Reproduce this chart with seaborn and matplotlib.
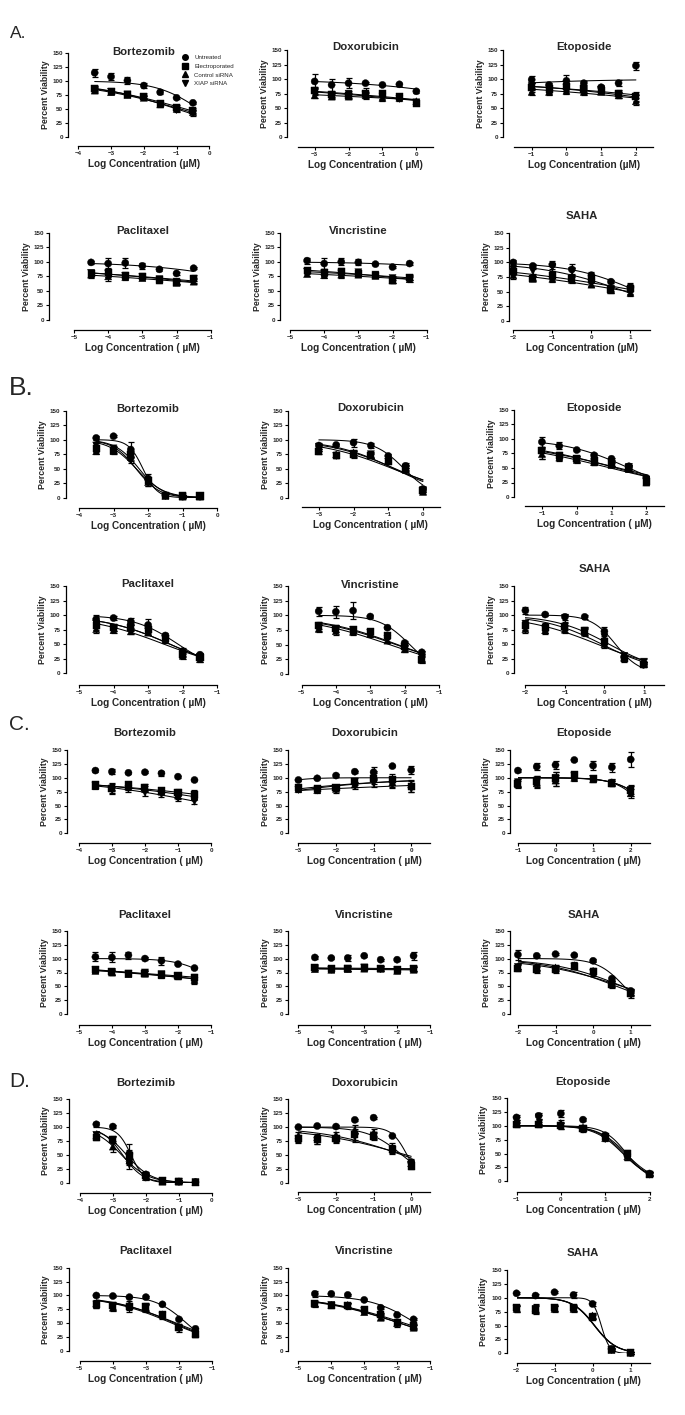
import numpy as np
import pandas as pd
import matplotlib
matplotlib.use("Agg")
import matplotlib.pyplot as plt
from matplotlib.lines import Line2D
import seaborn as sns

# -----------------------------
# DATA
# -----------------------------
series_names = ["Untreated", "Electroporated", "Control siRNA", "XIAP siRNA"]
panel_letters = ["A.", "B.", "C.", "D."]
drug_titles = ["Bortezomib", "Doxorubicin", "Etoposide", "Paclitaxel", "Vincristine", "SAHA"]
drug_titles_d = ["Bortezimib", "Doxorubicin", "Etoposide", "Paclitaxel", "Vincristine", "SAHA"]
y_ticks = [0, 25, 50, 75, 100, 125, 150]

# log concentration (uM) per drug
x_bortezomib = [-3.5, -3, -2.5, -2, -1.5, -1, -0.5]
x_doxorubicin = [-3, -2.5, -2, -1.5, -1, -0.5, 0]
x_etoposide = [-1, -0.5, 0, 0.5, 1, 1.5, 2]
x_paclitaxel = [-4.5, -4, -3.5, -3, -2.5, -2, -1.5]
x_vincristine = [-4.5, -4, -3.5, -3, -2.5, -2, -1.5]
x_saha = [-2, -1.5, -1, -0.5, 0, 0.5, 1]

# percent viability, rows = Untreated, Electroporated, Control siRNA, XIAP siRNA
A_bortezomib = [[115, 108, 101, 92, 80, 70, 61], [87, 81, 76, 72, 60, 53, 47],
                [83, 80, 75, 70, 58, 50, 44], [85, 81, 76, 71, 59, 48, 42]]
A_doxorubicin = [[96, 90, 93, 93, 90, 91, 79], [80, 73, 72, 75, 75, 70, 58],
                 [72, 70, 70, 72, 68, 68, 62], [78, 72, 75, 73, 70, 66, 60]]
A_etoposide = [[99, 90, 97, 93, 86, 93, 123], [85, 83, 87, 83, 80, 76, 70],
               [78, 78, 80, 78, 78, 72, 62], [88, 80, 85, 80, 82, 73, 67]]
A_paclitaxel = [[99, 97, 98, 93, 87, 80, 89], [80, 82, 77, 75, 70, 65, 72],
                [78, 75, 74, 72, 68, 64, 66], [81, 80, 76, 74, 70, 66, 68]]
A_vincristine = [[102, 97, 100, 99, 96, 91, 97], [85, 82, 83, 80, 77, 68, 73],
                 [79, 77, 78, 78, 76, 68, 70], [83, 80, 80, 82, 78, 72, 72]]
A_saha = [[100, 94, 96, 88, 78, 67, 58], [84, 73, 78, 72, 70, 53, 55],
          [78, 72, 72, 70, 62, 52, 48], [88, 85, 92, 85, 65, 55, 50]]

B_bortezomib = [[103, 106, 83, 33, 4, 2, 2], [85, 82, 75, 30, 4, 3, 3],
                [80, 80, 70, 27, 3, 2, 2], [90, 85, 65, 25, 3, 2, 2]]
B_doxorubicin = [[90, 91, 95, 90, 72, 55, 15], [80, 73, 74, 72, 63, 50, 12],
                 [85, 75, 78, 73, 65, 48, 10], [88, 72, 76, 75, 62, 52, 13]]
B_etoposide = [[95, 88, 81, 72, 66, 53, 33], [80, 72, 66, 62, 57, 50, 27],
               [74, 68, 64, 60, 55, 48, 25], [78, 70, 65, 60, 58, 52, 30]]
B_paclitaxel = [[93, 95, 89, 83, 65, 38, 32], [82, 79, 78, 75, 60, 33, 27],
                [76, 74, 72, 70, 57, 30, 24], [85, 77, 80, 72, 59, 34, 28]]
B_vincristine = [[107, 106, 108, 98, 79, 53, 37], [82, 77, 75, 72, 65, 47, 25],
                 [77, 73, 72, 68, 57, 42, 24], [80, 77, 75, 70, 60, 45, 28]]
B_saha = [[108, 101, 97, 97, 72, 28, 17], [82, 79, 80, 73, 55, 25, 15],
          [76, 74, 75, 70, 50, 27, 16], [85, 76, 95, 72, 62, 30, 20]]

C_bortezomib = [[113, 111, 109, 110, 108, 102, 96], [87, 80, 87, 83, 77, 73, 70],
                [85, 83, 84, 80, 75, 68, 66], [86, 78, 80, 73, 70, 63, 57]]
C_doxorubicin = [[96, 99, 104, 111, 110, 121, 114], [82, 80, 83, 93, 98, 97, 84],
                 [80, 78, 80, 88, 105, 92, 88], [78, 77, 77, 85, 90, 87, 80]]
C_etoposide = [[113, 120, 123, 132, 122, 119, 133], [90, 93, 98, 105, 98, 90, 77],
               [88, 90, 95, 100, 97, 92, 72], [92, 95, 100, 103, 98, 90, 78]]
C_paclitaxel = [[103, 102, 106, 100, 96, 90, 83], [80, 76, 73, 74, 71, 70, 66],
                [78, 75, 72, 73, 70, 68, 62], [79, 76, 73, 75, 72, 69, 60]]
C_vincristine = [[102, 101, 101, 105, 98, 98, 105], [84, 82, 82, 84, 83, 80, 82],
                 [81, 80, 81, 82, 82, 78, 80], [83, 80, 82, 84, 81, 79, 81]]
C_saha = [[107, 105, 108, 106, 96, 64, 42], [83, 80, 80, 86, 76, 54, 38],
          [86, 85, 84, 88, 78, 55, 40], [85, 82, 82, 86, 74, 52, 35]]

D_bortezomib = [[105, 101, 52, 15, 3, 2, 1], [82, 78, 48, 13, 3, 2, 1],
                [85, 65, 40, 10, 2, 2, 1], [86, 77, 32, 9, 3, 2, 1]]
D_doxorubicin = [[100, 102, 101, 113, 117, 84, 37], [80, 77, 80, 86, 83, 60, 30],
                 [85, 82, 86, 95, 90, 64, 35], [78, 75, 78, 82, 85, 60, 32]]
D_etoposide = [[115, 118, 122, 111, 83, 48, 14], [102, 102, 100, 95, 80, 50, 13],
               [105, 108, 105, 97, 78, 45, 14], [110, 115, 100, 93, 76, 44, 12]]
D_paclitaxel = [[100, 99, 97, 97, 84, 57, 40], [83, 82, 80, 80, 65, 42, 30],
                [86, 78, 84, 76, 66, 44, 33], [84, 80, 77, 78, 63, 40, 30]]
D_vincristine = [[103, 103, 101, 92, 78, 65, 57], [85, 82, 82, 75, 65, 52, 45],
                 [85, 83, 83, 70, 60, 50, 42], [84, 83, 80, 72, 62, 48, 43]]
D_saha = [[108, 104, 110, 105, 89, 8, 1], [82, 78, 82, 82, 65, 7, 1],
          [80, 82, 80, 80, 68, 6, 1], [80, 80, 81, 81, 66, 6, 1]]

# error bars (SD)
A_bortezomib_err = [[7, 6, 7, 4, 4, 2, 2], [5, 3, 3, 3, 4, 4, 4], [4, 3, 3, 3, 4, 4, 4], [4, 3, 3, 3, 4, 4, 4]]
A_doxorubicin_err = [[12, 10, 9, 2, 2, 2, 3], [6, 4, 4, 9, 5, 4, 3], [5, 4, 4, 4, 5, 4, 3], [5, 4, 4, 4, 4, 4, 3]]
A_etoposide_err = [[6, 4, 10, 3, 4, 5, 7], [8, 7, 6, 5, 4, 5, 8], [6, 5, 5, 5, 4, 5, 6], [6, 5, 5, 5, 4, 5, 6]]
A_paclitaxel_err = [[2, 10, 8, 5, 2, 2, 2], [5, 8, 6, 5, 5, 4, 5], [5, 8, 5, 4, 4, 4, 4], [5, 6, 5, 4, 4, 4, 4]]
A_vincristine_err = [[5, 10, 6, 5, 2, 2, 2], [4, 6, 6, 5, 4, 4, 4], [4, 5, 5, 4, 4, 4, 4], [4, 5, 5, 4, 4, 4, 4]]
A_saha_err = [[5, 3, 7, 9, 6, 2, 6], [6, 4, 6, 5, 5, 4, 6], [6, 4, 5, 5, 5, 4, 5], [6, 4, 6, 5, 5, 4, 5]]

B_bortezomib_err = [[3, 2, 13, 8, 2, 2, 2], [6, 5, 6, 6, 2, 2, 2], [5, 4, 6, 6, 2, 2, 2], [5, 4, 6, 5, 2, 2, 2]]
B_doxorubicin_err = [[3, 2, 7, 5, 4, 4, 3], [4, 5, 6, 4, 4, 4, 3], [4, 4, 5, 4, 4, 4, 3], [4, 4, 5, 4, 4, 4, 3]]
B_etoposide_err = [[8, 6, 2, 3, 2, 3, 3], [14, 6, 5, 4, 4, 4, 4], [8, 6, 5, 4, 4, 4, 4], [8, 5, 5, 4, 4, 4, 4]]
B_paclitaxel_err = [[8, 3, 6, 10, 5, 5, 3], [8, 6, 5, 5, 5, 5, 4], [7, 5, 5, 5, 5, 5, 4], [7, 5, 5, 5, 5, 5, 4]]
B_vincristine_err = [[8, 10, 14, 2, 3, 4, 3], [6, 6, 5, 5, 5, 5, 5], [6, 6, 5, 5, 5, 5, 5], [6, 5, 5, 5, 5, 5, 5]]
B_saha_err = [[6, 2, 5, 3, 8, 4, 2], [7, 7, 6, 6, 6, 5, 4], [7, 6, 6, 6, 6, 5, 4], [7, 6, 6, 6, 6, 5, 4]]

C_bortezomib_err = [[2, 5, 2, 2, 5, 2, 2], [6, 10, 6, 6, 5, 6, 8], [5, 6, 6, 6, 5, 6, 6], [5, 6, 5, 5, 5, 5, 5]]
C_doxorubicin_err = [[2, 2, 2, 2, 10, 2, 7], [4, 4, 4, 6, 10, 10, 10], [4, 4, 4, 5, 8, 8, 8], [4, 4, 4, 5, 6, 6, 6]]
C_etoposide_err = [[3, 6, 7, 2, 8, 8, 13], [7, 10, 12, 5, 4, 5, 10], [6, 8, 10, 5, 4, 5, 8], [6, 8, 10, 5, 4, 5, 8]]
C_paclitaxel_err = [[8, 9, 6, 2, 7, 2, 2], [4, 5, 4, 4, 4, 4, 6], [4, 4, 4, 4, 4, 4, 5], [4, 4, 4, 4, 4, 4, 5]]
C_vincristine_err = [[2, 2, 6, 2, 2, 2, 7], [5, 5, 4, 4, 4, 5, 5], [4, 4, 4, 4, 4, 4, 4], [4, 4, 4, 4, 4, 4, 4]]
C_saha_err = [[9, 2, 2, 2, 3, 3, 3], [5, 5, 5, 5, 5, 5, 5], [5, 5, 5, 5, 5, 5, 5], [5, 5, 5, 5, 5, 5, 5]]

D_bortezomib_err = [[5, 2, 18, 4, 2, 2, 2], [6, 6, 10, 4, 2, 2, 2], [6, 10, 8, 4, 2, 2, 2], [6, 6, 8, 4, 2, 2, 2]]
D_doxorubicin_err = [[2, 2, 2, 2, 2, 2, 5], [6, 8, 6, 10, 6, 8, 5], [6, 6, 6, 8, 6, 8, 5], [6, 6, 6, 8, 6, 6, 5]]
D_etoposide_err = [[5, 5, 7, 3, 3, 5, 3], [5, 5, 5, 4, 4, 6, 3], [5, 5, 5, 4, 4, 6, 3], [5, 5, 5, 4, 4, 6, 3]]
D_paclitaxel_err = [[2, 2, 2, 2, 2, 2, 2], [6, 6, 6, 6, 5, 5, 4], [6, 6, 6, 6, 5, 5, 4], [6, 6, 6, 6, 5, 5, 4]]
D_vincristine_err = [[5, 2, 2, 2, 2, 2, 2], [4, 4, 4, 4, 4, 4, 4], [4, 4, 4, 4, 4, 4, 4], [4, 4, 4, 4, 4, 4, 4]]
D_saha_err = [[2, 2, 2, 5, 4, 2, 2], [5, 7, 5, 5, 4, 2, 2], [5, 7, 5, 5, 4, 2, 2], [5, 7, 5, 5, 4, 2, 2]]

# fits that the original figure does not draw (panel, drug, series)
no_curve = [(2, 0, 0), (2, 2, 0), (2, 4, 0)]

drug_x = [x_bortezomib, x_doxorubicin, x_etoposide, x_paclitaxel, x_vincristine, x_saha]
panel_values = [
    [A_bortezomib, A_doxorubicin, A_etoposide, A_paclitaxel, A_vincristine, A_saha],
    [B_bortezomib, B_doxorubicin, B_etoposide, B_paclitaxel, B_vincristine, B_saha],
    [C_bortezomib, C_doxorubicin, C_etoposide, C_paclitaxel, C_vincristine, C_saha],
    [D_bortezomib, D_doxorubicin, D_etoposide, D_paclitaxel, D_vincristine, D_saha],
]
panel_errors = [
    [A_bortezomib_err, A_doxorubicin_err, A_etoposide_err, A_paclitaxel_err, A_vincristine_err, A_saha_err],
    [B_bortezomib_err, B_doxorubicin_err, B_etoposide_err, B_paclitaxel_err, B_vincristine_err, B_saha_err],
    [C_bortezomib_err, C_doxorubicin_err, C_etoposide_err, C_paclitaxel_err, C_vincristine_err, C_saha_err],
    [D_bortezomib_err, D_doxorubicin_err, D_etoposide_err, D_paclitaxel_err, D_vincristine_err, D_saha_err],
]

# -----------------------------
# LAYOUT (pixels in a 685x1415 image)
# spine_x, x_left, x_right, y_150, y_0, x_axis_y, xmin, xmax, title_y, unit
# -----------------------------
U = "(\u00b5M)"
US = "( \u00b5M)"
layout = [
    [(68, 78.3, 209.3, 53.3, 136.7, 146, -4, 0, 52, U),
     (287.3, 297.7, 433.3, 50, 137.3, 146.7, -3.5, 0.5, 46.7, US),
     (503.3, 514.3, 653.3, 50, 137.3, 146.7, -1.5, 2.5, 46.7, U),
     (49.3, 74, 210.7, 232.7, 320, 330, -5, -1, 231, US),
     (280, 290, 426.7, 232.7, 320, 330, -5, -1, 230.7, US),
     (509.3, 513.3, 650, 233.3, 320.7, 330, -2, 1.5, 216, U)],
    [(65.6, 78.9, 217.3, 410.7, 497.7, 508.3, -4, 0, 409, US),
     (288.2, 301.5, 440.3, 410.7, 497.7, 507.3, -3.5, 0.5, 408.5, US),
     (514.3, 524.5, 663.7, 410, 497, 506, -1.5, 2.5, 407.7, US),
     (65.6, 78.9, 217.3, 586, 673.3, 685, -5, -1, 584, US),
     (288.2, 301.5, 439, 586, 674, 685, -5, -1, 585, US),
     (514.3, 525.4, 663.7, 586, 673.3, 685, -2, 1.5, 569.3, US)],
    [(67.4, 78.9, 211, 750, 833.3, 843.3, -4, 0, 733.3, US),
     (288.2, 298.4, 430, 750, 833.3, 842.7, -3, 0.5, 733.3, US),
     (509.9, 517.9, 649.5, 750, 833.3, 842.7, -1, 2.5, 733.3, US),
     (67.4, 78.9, 211, 930.7, 1014.3, 1025, -5, -1, 915, US),
     (288.2, 298.4, 430, 930.7, 1014.3, 1025, -5, -1, 915, US),
     (509.9, 517.9, 649.5, 930.7, 1014.3, 1025, -2, 1.5, 915, US)],
    [(68.7, 79.8, 212, 1099.3, 1182.7, 1192.7, -4, 0, 1082.7, US),
     (288.2, 298.4, 430, 1099.3, 1182.7, 1192, -3, 0.5, 1082.7, US),
     (506.8, 516.5, 649.5, 1098, 1181.3, 1191.7, -1, 2, 1081.7, US),
     (68.7, 79.8, 212, 1267.7, 1351, 1361, -5, -1, 1251, US),
     (288.2, 298.4, 430, 1267.7, 1351, 1361, -5, -1, 1251, US),
     (506.8, 516.5, 649.5, 1270, 1353.3, 1362.7, -2, 1.5, 1253.3, US)],
]
letter_pos = [(10, 38, 12.5), (9, 395, 19), (9, 730, 15), (9, 1086.7, 15)]
markers = {"Untreated": "o", "Electroporated": "s", "Control siRNA": "^", "XIAP siRNA": "v"}

W, H = 685, 1415


# -----------------------------
# normalized dose-response fit (top 100, bottom 0, variable slope)
# y = 100 / (1 + 10^(u0 + hill*(x - xm))), least squares on a grid
# -----------------------------
def fit_curve(x, y, n=120):
    x = np.asarray(x, float)
    y = np.asarray(y, float)
    xm = x.mean()
    u0 = np.linspace(-3, 3, 401)[:, None, None]
    hill = np.linspace(-3, 6, 601)[None, :, None]
    pred = 100.0 / (1.0 + 10 ** (u0 + hill * (x - xm)))
    sse = ((pred - y) ** 2).sum(-1)
    i, j = np.unravel_index(np.argmin(sse), sse.shape)
    xs = np.linspace(x.min(), x.max(), n)
    ys = 100.0 / (1.0 + 10 ** (u0[i, 0, 0] + hill[0, j, 0] * (xs - xm)))
    return xs, ys


# -----------------------------
# PLOT
# -----------------------------
sns.set_style("ticks")
plt.rcParams["font.family"] = ["Liberation Sans", "DejaVu Sans"]
plt.rcParams["font.weight"] = "bold"
plt.rcParams["axes.labelweight"] = "bold"
plt.rcParams["axes.titleweight"] = "bold"

fig = plt.figure(figsize=(W / 100, H / 100), dpi=100)
fig.patch.set_facecolor("white")

for p in range(4):
    titles = drug_titles_d if p == 3 else drug_titles
    for k in range(6):
        sx, xl, xr, y150, y0, xa, lo, hi, ty, unit = layout[p][k]
        ax = fig.add_axes([xl / W, 1 - y0 / H, (xr - xl) / W, (y0 - y150) / H])
        ax.set_facecolor("none")
        x = drug_x[k]
        vals = panel_values[p][k]
        errs = panel_errors[p][k]

        rows = []
        for si, name in enumerate(series_names):
            for xi, v, e in zip(x, vals[si], errs[si]):
                rows.append({"x": xi, "v": v, "err": e, "series": name})
        df = pd.DataFrame(rows)

        for si in range(4):
            if (p, k, si) in no_curve:
                continue
            xs, ys = fit_curve(x, vals[si])
            sns.lineplot(x=xs, y=ys, ax=ax, color="black", lw=0.75)

        ax.errorbar(df["x"], df["v"], yerr=df["err"], fmt="none", ecolor="black",
                    elinewidth=0.9, capsize=2.5, capthick=0.9, clip_on=False, zorder=3)
        sns.scatterplot(data=df, x="x", y="v", style="series", markers=markers,
                        color="black", edgecolor="black", linewidth=0.3, s=26,
                        legend=False, ax=ax, clip_on=False, zorder=4)

        ax.set_xlim(lo, hi)
        ax.set_ylim(0, 150)
        ax.set_xticks(list(range(int(np.ceil(lo)), int(np.floor(hi)) + 1)))
        ax.set_yticks(y_ticks)
        ax.tick_params(length=2.2, width=0.8, pad=1.5, labelsize=4.5, color="black")
        for lab in ax.get_xticklabels() + ax.get_yticklabels():
            lab.set_fontweight("bold")
        for side in ["left", "bottom"]:
            ax.spines[side].set_linewidth(0.9)
            ax.spines[side].set_color("black")
        sns.despine(ax=ax, offset={"left": (xl - sx) * 0.72, "bottom": (xa - y0) * 0.72})

        ax.set_xlabel("Log Concentration " + unit, fontsize=7.2, labelpad=2)
        ax.set_ylabel("Percent Viability", fontsize=6.3, labelpad=2)
        ax.set_title(titles[k], fontsize=8.2, y=(y0 - ty) / (y0 - y150), pad=0, va="center")

        if p == 0 and k == 0:
            handles = [Line2D([], [], ls="none", marker=markers[n], color="black", markersize=4)
                       for n in series_names]
            fig.legend(handles, series_names, loc="upper left",
                       bbox_to_anchor=(178.5 / W, 1 - 52 / H), frameon=False,
                       prop={"size": 4.4, "weight": "normal"}, borderpad=0,
                       handlelength=1.0, handletextpad=1.1, labelspacing=0.55)

for (lx, ly, fs), letter in zip(letter_pos, panel_letters):
    fig.text(lx / W, 1 - ly / H, letter, fontsize=fs, fontweight="normal", va="baseline", ha="left")

plt.savefig("out.png", dpi=100, facecolor="white")
